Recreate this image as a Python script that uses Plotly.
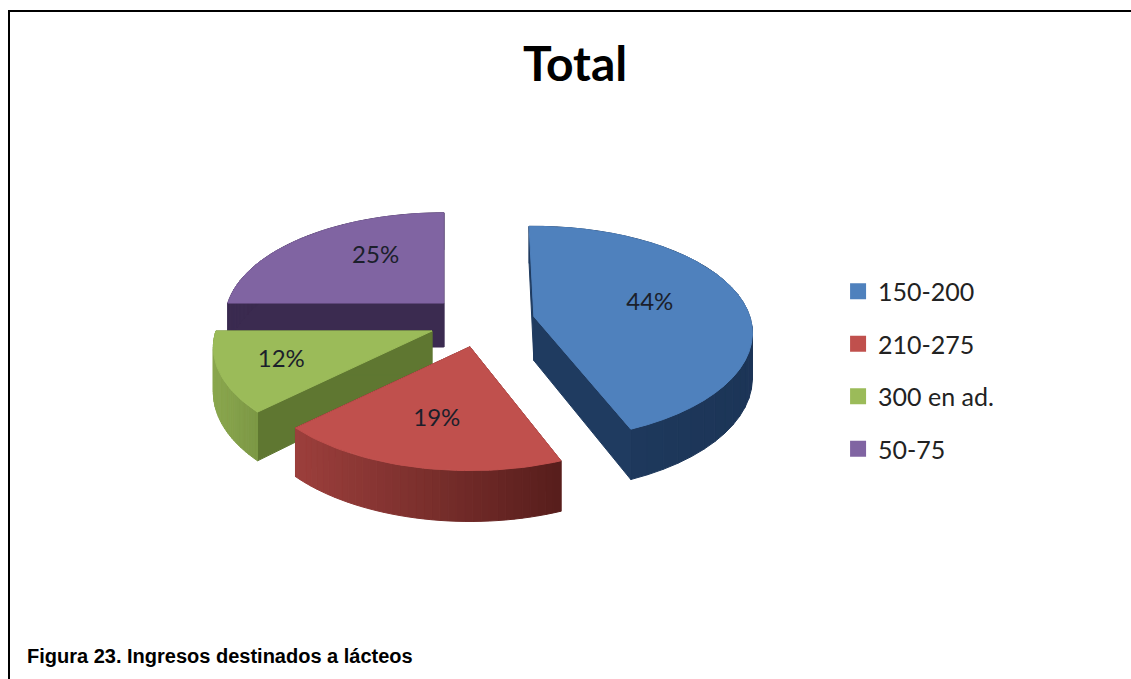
import numpy as np
import plotly.graph_objects as go

# --- Data ---
categories = ["150-200", "210-275", "300 en ad.", "50-75"]
shares = [44, 19, 12, 25]
chart_title = "Total"
caption = "Figura 23. Ingresos destinados a lácteos"

# --- Style ---
top_colors = ["#4f81bd", "#c0504d", "#9bbb59", "#8064a2"]
rim_left = ["#1f3b60", "#9c3f3c", "#8aa74e", "#3b2b50"]
rim_right = ["#1c3557", "#571e1c", "#7c9845", "#35264a"]
cut_colors = ["#1f3b60", "#5e211f", "#5f7731", "#3b2b50"]
label_radius = [0.56, 0.64, 0.72, 0.58]
label_frac = [0.5, 0.5, 0.5, 0.6]
slice_turn = [-1.5, 0, 0, 0]  # degrees, the blue slice leans a little in the original
draw_order = [3, 2, 1, 0]  # back to front

# pie projection, in page pixels
CX, CY = 481.5, 321.4
RX, RY = 216, 107
PERSP = 0.157
DEPTH = 44
EXPLODE_X, EXPLODE_Y = 53.3, 26

PAGE_W, PAGE_H = 1131, 679


def project(cx, cy, angle, r):
    X = r * np.sin(angle)
    Y = -r * np.cos(angle)
    scale = 1 + PERSP * Y
    return cx + RX * X * scale, cy + RY * Y * scale, DEPTH * scale


def hex_mix(c1, c2, t):
    a = [int(c1[i:i + 2], 16) for i in (1, 3, 5)]
    b = [int(c2[i:i + 2], 16) for i in (1, 3, 5)]
    return "rgb({},{},{})".format(*[round(p + (q - p) * t) for p, q in zip(a, b)])


def poly(xs, ys, color):
    return go.Scatter(
        x=list(xs) + [xs[0]],
        y=list(ys) + [ys[0]],
        mode="lines",
        fill="toself",
        fillcolor=color,
        line=dict(color=color, width=1),
        hoverinfo="skip",
        showlegend=False,
    )


bounds = np.cumsum([0] + shares) / sum(shares) * 2 * np.pi
fig = go.Figure()

for i in draw_order:
    start, end = bounds[i], bounds[i + 1]
    mid = (start + end) / 2
    cx = CX + EXPLODE_X * np.sin(mid)
    cy = CY - EXPLODE_Y * np.cos(mid)
    turn = np.radians(slice_turn[i])
    start, end = start + turn, end + turn

    # cut faces
    for a in (start, end):
        x, y, d = project(cx, cy, a, 1)
        fig.add_trace(poly([cx, x, x, cx], [cy, y, y + d, cy + DEPTH], cut_colors[i]))

    # outer wall, shaded in strips
    angles = np.linspace(start, end, 37)
    pts = [project(cx, cy, a, 1) for a in angles]
    x_min = min(p[0] for p in pts)
    x_max = max(p[0] for p in pts)
    for p, q in zip(pts[:-1], pts[1:]):
        if q[0] == p[0]:
            continue
        t = ((p[0] + q[0]) / 2 - x_min) / (x_max - x_min)
        fig.add_trace(poly(
            [p[0], q[0], q[0], p[0]],
            [p[1], q[1], q[1] + q[2], p[1] + p[2]],
            hex_mix(rim_left[i], rim_right[i], t),
        ))

    # top face
    xs = [cx] + [p[0] for p in pts]
    ys = [cy] + [p[1] for p in pts]
    fig.add_trace(poly(xs, ys, top_colors[i]))

    # percent label
    label_angle = start + (end - start) * label_frac[i]
    lx, ly, _ = project(cx, cy, label_angle, label_radius[i])
    fig.add_trace(go.Scatter(
        x=[lx], y=[ly], mode="text",
        text=[f"{shares[i]}%"],
        textposition="middle center",
        textfont=dict(family="Lato, sans-serif", size=24, color="#1b1f2b"),
        hoverinfo="skip",
        showlegend=False,
    ))

# legend swatches
for i, name in enumerate(categories):
    fig.add_trace(go.Scatter(
        x=[None], y=[None], mode="markers", name=name,
        legendgroup=name,
        marker=dict(symbol="square", size=16, color=top_colors[i]),
    ))

fig.update_layout(
    width=PAGE_W,
    height=PAGE_H,
    margin=dict(l=0, r=0, t=0, b=0),
    paper_bgcolor="white",
    plot_bgcolor="white",
    xaxis=dict(range=[0, PAGE_W], visible=False, fixedrange=True),
    yaxis=dict(range=[PAGE_H, 0], visible=False, fixedrange=True),
    legend=dict(
        x=0.741, y=0.455, xanchor="left", yanchor="middle",
        tracegroupgap=17,
        itemwidth=30,
        font=dict(family="Lato, sans-serif", size=25, color="#222222"),
        bgcolor="rgba(0,0,0,0)",
    ),
    annotations=[
        dict(text=f"<b>{chart_title}</b>", x=575, y=62, xref="x", yref="y",
             showarrow=False, font=dict(family="Lato, sans-serif", size=48, color="black")),
        dict(text=f"<b>{caption}</b>", x=25, y=656, xref="x", yref="y", xanchor="left",
             showarrow=False, font=dict(family="Liberation Sans, Arial, sans-serif", size=20, color="black")),
    ],
    shapes=[
        dict(type="line", x0=8, x1=PAGE_W, y0=11, y1=11, line=dict(color="black", width=2)),
        dict(type="line", x0=9, x1=9, y0=10, y1=PAGE_H, line=dict(color="black", width=2)),
    ],
)

# drop the default body margin so the figure fills the window
fig.write_html(
    "out.html",
    config=dict(displayModeBar=False),
    post_script="document.body.style.margin='0';document.body.style.overflow='hidden';",
)
